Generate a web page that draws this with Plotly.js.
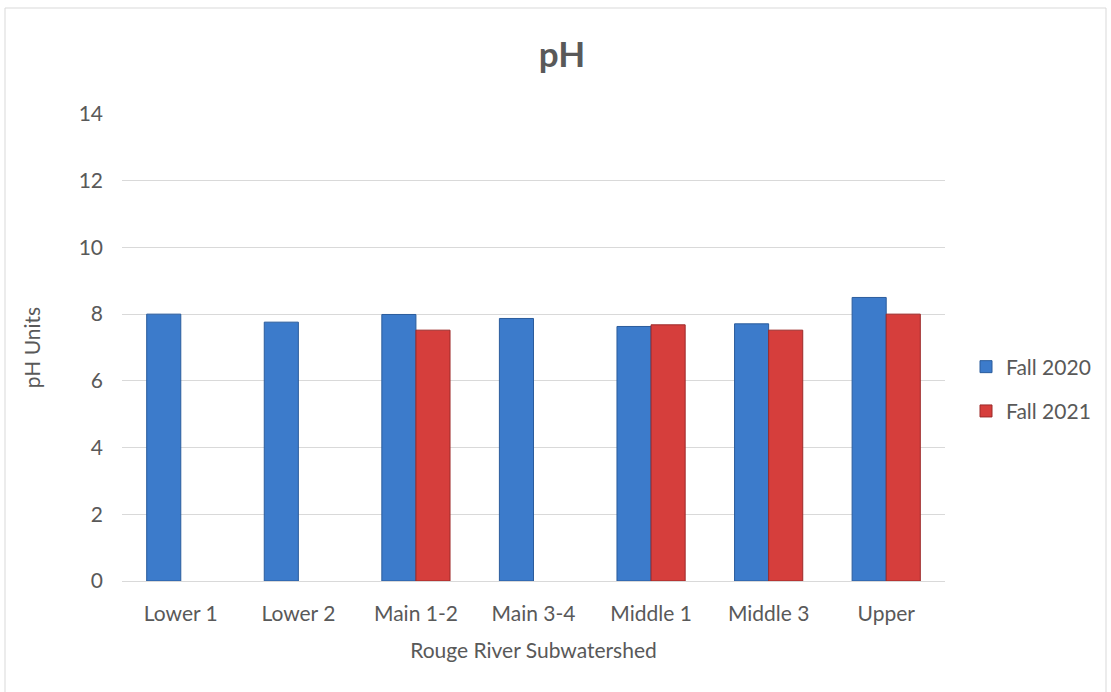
<!DOCTYPE html>
<html>
<head>
<meta charset="utf-8">
<script src="https://cdn.plot.ly/plotly-3.0.1.min.js"></script>
<style>
  html, body { margin: 0; padding: 0; background: #fff; }
  #chart { width: 1111px; height: 692px; }
</style>
</head>
<body>
<div id="chart"></div>
<script>
const categories = ["Lower 1", "Lower 2", "Main 1-2", "Main 3-4", "Middle 1", "Middle 3", "Upper"];
const fall2020 = [8.0, 7.76, 7.99, 7.87, 7.63, 7.71, 8.5];
const fall2021 = [null, null, 7.52, null, 7.68, 7.52, 8.0];
const seriesNames = ["Fall 2020", "Fall 2021"];
const yTicks = [0, 2, 4, 6, 8, 10, 12, 14];

const font = "Lato, 'Open Sans', sans-serif";
const txt = "#595959";

const traces = [
  {
    type: "bar", name: seriesNames[0], x: categories, y: fall2020, legendgroup: "a",
    marker: { color: "#3C7BCB", line: { color: "#2B5C9C", width: 1 } },
    hoverinfo: "x+y"
  },
  {
    type: "bar", name: seriesNames[1], x: categories, y: fall2021, legendgroup: "b",
    marker: { color: "#D63E3C", line: { color: "#9C2A29", width: 1 } },
    hoverinfo: "x+y"
  }
];

const L = 122, R = 945, T = 114, B = 581, W = 1111, H = 692;
const pw = R - L, ph = B - T;
function px(x) { return (x - L) / pw; }
function py(y) { return (B - y) / ph; }

const layout = {
  width: W, height: H,
  margin: { l: L, r: W - R, t: T, b: H - B, pad: 0 },
  paper_bgcolor: "#fff", plot_bgcolor: "#fff",
  barmode: "group", bargap: 0.42, bargroupgap: 0,
  font: { family: font, color: txt, size: 21 },
  title: {
    text: "<b>pH</b>", x: 562 / W, xref: "container", xanchor: "center",
    y: 1 - 55 / H, yref: "container", yanchor: "middle",
    font: { family: font, size: 35, color: txt }
  },
  xaxis: {
    type: "category",
    showgrid: false, showline: true, linecolor: "#D9D9D9", linewidth: 1,
    ticks: "", ticklabelstandoff: 14, tickfont: { size: 21, color: txt },
    title: { text: "Rouge River Subwatershed", font: { size: 21, color: txt }, standoff: 19 }
  },
  yaxis: {
    range: [0, 14], tickvals: yTicks, ticktext: yTicks.map(String),
    showgrid: true, gridcolor: "#D9D9D9", gridwidth: 1, zeroline: false,
    showline: false, ticks: "", ticklabelstandoff: 18,
    tickfont: { size: 21, color: txt },
    title: { text: "pH Units", font: { size: 21, color: txt }, standoff: 32 }
  },
  legend: {
    x: px(966), y: py(389), xanchor: "left", yanchor: "middle",
    font: { size: 21, color: txt }, bgcolor: "rgba(0,0,0,0)",
    tracegroupgap: 14, itemwidth: 30, traceorder: "grouped"
  },
  shapes: [
    { type: "rect", xref: "paper", yref: "paper",
      x0: px(5), x1: px(1106), y0: py(8), y1: py(700),
      line: { color: "#D9D9D9", width: 1 }, fillcolor: "rgba(0,0,0,0)", layer: "below" }
  ]
};

Plotly.newPlot("chart", traces, layout, { displayModeBar: false, staticPlot: true });
</script>
</body>
</html>
